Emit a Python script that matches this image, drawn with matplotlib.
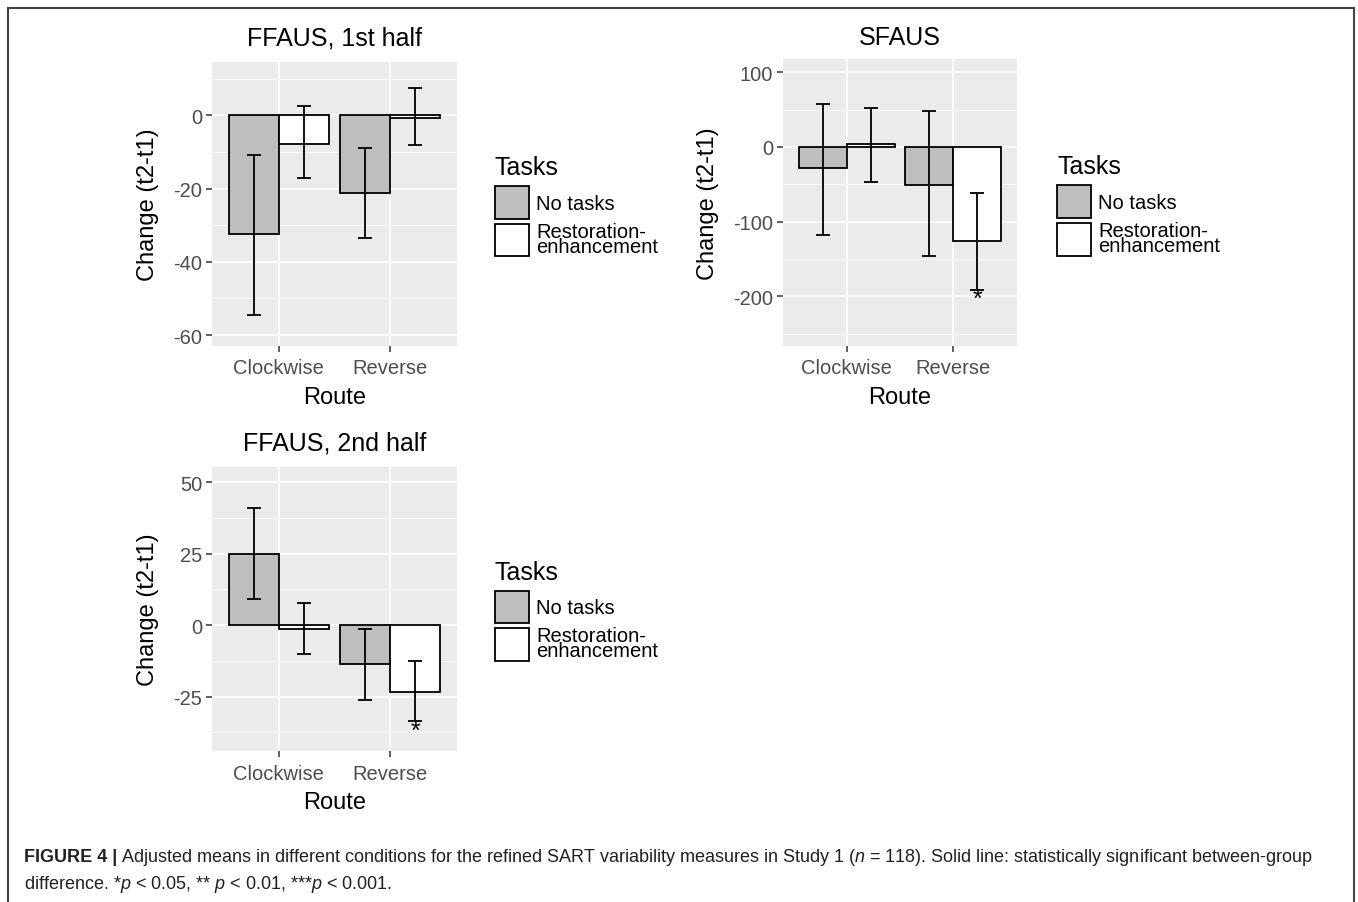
import numpy as np
import matplotlib.pyplot as plt
from matplotlib.patches import Patch
from matplotlib.lines import Line2D

plt.rcParams['font.family'] = ['Liberation Sans', 'DejaVu Sans']
plt.rcParams['axes.unicode_minus'] = False
plt.rcParams['mathtext.fontset'] = 'custom'
plt.rcParams['mathtext.rm'] = 'Liberation Sans'
plt.rcParams['mathtext.it'] = 'Liberation Sans:italic'
plt.rcParams['mathtext.bf'] = 'Liberation Sans:bold'

routes = ['Clockwise', 'Reverse']
groups = ['No tasks', 'Restoration-\nenhancement']
fills = ['#BEBEBE', 'white']

# adjusted means, rows = group (no tasks, restoration), cols = route
ff1_mean = [[-32.5, -21.2], [-7.7, -0.6]]
ff1_low = [[-54.6, -33.6], [-17.2, -8.1]]
ff1_high = [[-10.7, -8.9], [2.5, 7.4]]

sf_mean = [[-28.5, -50.9], [3.6, -125.8]]
sf_low = [[-117.8, -145.8], [-46.4, -191.0]]
sf_high = [[58.0, 48.0], [51.8, -61.0]]

ff2_mean = [[25.0, -13.7], [-1.2, -23.4]]
ff2_low = [[9.1, -26.3], [-10.2, -33.6]]
ff2_high = [[40.8, -1.4], [7.7, -12.7]]

# significance stars (group, route)
sf_stars = [(1, 1)]
ff2_stars = [(1, 1)]

fig = plt.figure(figsize=(13.58, 9.03), dpi=100)
W, H = 1358, 903


def px_axes(x0, y0, x1, y1):
    return fig.add_axes([x0 / W, 1 - y1 / H, (x1 - x0) / W, (y1 - y0) / H])


def draw_panel(ax, title, means, lows, highs, ylim, major, minor, stars,
               ylab_x, title_y, leg_x, leg_y):
    ax.set_facecolor('#EBEBEB')
    x = np.arange(1, len(routes) + 1)
    w = 0.45
    offs = [-w / 2, w / 2]
    for gi in range(len(groups)):
        m = np.array(means[gi])
        lo = np.array(lows[gi])
        hi = np.array(highs[gi])
        ax.bar(x + offs[gi], m, width=w, color=fills[gi], edgecolor='black',
               linewidth=1.3, zorder=3)
        ax.errorbar(x + offs[gi], m, yerr=[m - lo, hi - m], fmt='none',
                    ecolor='black', elinewidth=1.3, capsize=4.7, capthick=1.3,
                    zorder=4)
    for gi, ri in stars:
        ax.annotate('*', (x[ri] + offs[gi], lows[gi][ri]), xytext=(0, -7),
                    textcoords='offset points', ha='center', va='center',
                    fontsize=18, zorder=5)
    ax.set_xlim(0.4, 2.6)
    ax.set_ylim(ylim)
    ax.set_yticks(major)
    ax.set_yticks(minor, minor=True)
    ax.set_xticks(x, routes)
    ax.grid(which='major', color='white', lw=1.1)
    ax.grid(which='minor', axis='y', color='white', lw=0.5)
    ax.set_axisbelow(True)
    for s in ax.spines.values():
        s.set_visible(False)
    ax.tick_params(which='major', length=4, width=1.1, color='#333333',
                   labelcolor='#4D4D4D', labelsize=14.5, pad=3)
    ax.tick_params(axis='x', pad=5)
    ax.tick_params(which='minor', length=0)
    ax.text(0.5, title_y, title, transform=ax.transAxes, ha='center',
            va='center', fontsize=18)
    ax.text(ylab_x, 0.5, 'Change (t2-t1)', transform=ax.transAxes,
            rotation=90, ha='center', va='center', fontsize=17)
    ax.text(0.5, -0.178, 'Route', transform=ax.transAxes, ha='center',
            va='center', fontsize=17)
    handles = [Patch(facecolor=fills[i], edgecolor='black', lw=1.3,
                     label=groups[i]) for i in range(len(groups))]
    leg = ax.legend(handles=handles, title='Tasks', loc='upper left',
                    bbox_to_anchor=(leg_x, leg_y), frameon=False, fontsize=14.5,
                    title_fontsize=18, handlelength=1.69, handleheight=2.12,
                    labelspacing=0.15, handletextpad=0.35, borderaxespad=0,
                    borderpad=0, alignment='left')
    leg._legend_box.sep = 5
    for t in leg.get_texts():
        t.set_linespacing(0.75)


ax1 = px_axes(212, 63, 457, 347)
draw_panel(ax1, 'FFAUS, 1st half', ff1_mean, ff1_low, ff1_high,
           (-63, 14.6), [0, -20, -40, -60], [10, -10, -30, -50], [],
           -0.261, 1.085, 1.155, 0.672)

ax2 = px_axes(783, 60, 1017, 347)
draw_panel(ax2, 'SFAUS', sf_mean, sf_low, sf_high,
           (-266.5, 117.8), [100, 0, -100, -200], [50, -50, -150, -250],
           sf_stars, -0.32, 1.075, 1.171, 0.668)

ax3 = px_axes(212, 468, 457, 752)
draw_panel(ax3, 'FFAUS, 2nd half', ff2_mean, ff2_low, ff2_high,
           (-44, 55.3), [50, 25, 0, -25], [37.5, 12.5, -12.5, -37.5],
           ff2_stars, -0.261, 1.088, 1.155, 0.674)

# frame around the figure
for xs, ys in [([8, 8], [903, 9]), ([8, 1354], [9, 9]), ([1354, 1354], [9, 903])]:
    fig.add_artist(Line2D([v / W for v in xs], [1 - v / H for v in ys],
                          transform=fig.transFigure, color='#444444', lw=1.5))

cap_col = '#231F20'
t1 = fig.text(24 / W, 1 - 858 / H, 'FIGURE 4 |', weight='bold', fontsize=13,
              va='center', color=cap_col)
fig.canvas.draw()
bb = t1.get_window_extent()
fig.text((bb.x1 + 4) / W, 1 - 858 / H,
         'Adjusted means in different conditions for the refined SART variability '
         'measures in Study 1 ($n$ = 118). Solid line: statistically significant '
         'between-group', fontsize=13, va='center', color=cap_col)
fig.text(24 / W, 1 - 885 / H,
         r'difference. *$p$ < 0.05, ** $p$ < 0.01, ***$p$ < 0.001.',
         fontsize=13, va='center', color=cap_col)

fig.savefig('out.png', dpi=100)
